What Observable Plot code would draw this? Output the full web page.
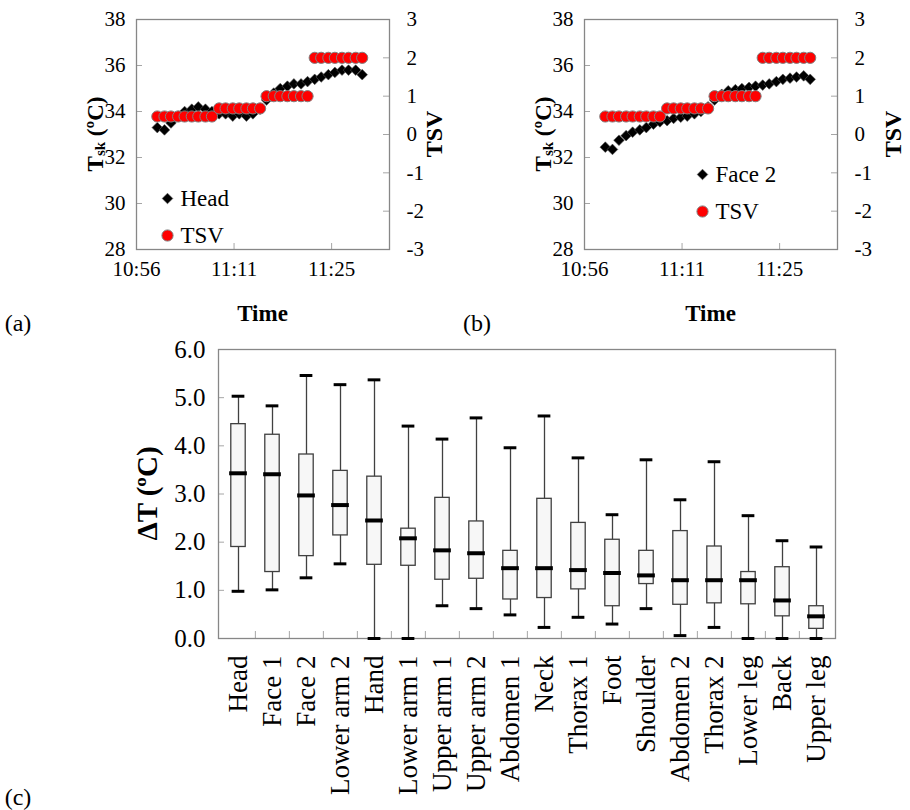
<!DOCTYPE html>
<html><head><meta charset="utf-8">
<script src="https://cdn.jsdelivr.net/npm/d3@7"></script>
<script src="https://cdn.jsdelivr.net/npm/@observablehq/plot@0.6"></script>
<style>
body{margin:0;background:#fff;}
#fig{position:relative;width:910px;height:810px;font-family:"Liberation Serif","Times New Roman",serif;}
#fig svg{position:absolute;overflow:visible;background:transparent;}
</style></head><body><div id="fig"></div>
<script>
// ---------- DATA ----------
// sampling times, minutes after 10:56
const timeMin = [3.2,4.3,5.3,6.4,7.4,8.5,9.5,10.6,11.6,12.7,13.7,14.8,15.8,16.9,17.9,19.0,20.0,21.1,22.1,23.2,24.2,25.3,26.3,27.4,28.4,29.5,30.5,31.6,32.6,33.7,34.7];
const tsvValues = [0.47,0.47,0.47,0.47,0.47,0.47,0.47,0.47,0.47,0.68,0.68,0.68,0.68,0.68,0.68,0.68,1.0,1.0,1.0,1.0,1.0,1.0,1.0,2.0,2.0,2.0,2.0,2.0,2.0,2.0,2.0];
const headTsk = [33.3,33.2,33.5,33.8,34.0,34.1,34.2,34.1,34.0,33.9,33.9,33.8,33.9,33.8,33.9,34.1,34.5,34.8,35.0,35.1,35.2,35.2,35.3,35.4,35.5,35.6,35.7,35.8,35.8,35.8,35.6];
const face2Tsk = [32.45,32.35,32.75,32.95,33.1,33.2,33.3,33.45,33.55,33.6,33.7,33.75,33.8,33.9,34.0,34.2,34.5,34.75,34.9,34.95,35.0,35.05,35.1,35.15,35.2,35.3,35.4,35.45,35.5,35.55,35.4];
const timeTicks = [0, 15, 30];
const timeTickLabels = ["10:56", "11:11", "11:25"];
const tskTicks = [28, 30, 32, 34, 36, 38];
const tsvTicks = [-3, -2, -1, 0, 1, 2, 3];

const sites = ["Head","Face 1","Face 2","Lower arm 2","Hand","Lower arm 1","Upper arm 1","Upper arm 2","Abdomen 1","Neck","Thorax 1","Foot","Shoulder","Abdomen 2","Thorax 2","Lower leg","Back","Upper leg"];
const whiskerHigh = [5.03,4.83,5.46,5.27,5.37,4.41,4.14,4.58,3.96,4.62,3.75,2.57,3.71,2.88,3.67,2.55,2.03,1.90];
const q3 = [4.45,4.23,3.82,3.48,3.36,2.28,2.92,2.43,1.82,2.90,2.40,2.05,1.82,2.23,1.91,1.38,1.48,0.67];
const median = [3.43,3.41,2.97,2.77,2.45,2.08,1.83,1.77,1.46,1.46,1.42,1.36,1.31,1.21,1.21,1.21,0.79,0.46];
const q1 = [1.90,1.38,1.71,2.14,1.53,1.51,1.22,1.24,0.81,0.84,1.02,0.67,1.13,0.70,0.73,0.71,0.46,0.20];
const whiskerLow = [0.98,1.01,1.26,1.55,0.0,0.0,0.68,0.62,0.49,0.23,0.44,0.30,0.62,0.06,0.23,0.0,0.0,0.0];
const dtTicks = [0, 1, 2, 3, 4, 5, 6];

// ---------- LAYOUT ----------
const fig = document.getElementById("fig");
const FONT = '"Liberation Serif","Times New Roman",serif';
const FRAME = "#878787", TICK = "#a6a6a6";
const PW = 455, PH = 340, ML = 136, MR = 66, MT = 19, MB = PH - 249;
const FW = PW - ML - MR, FH = PH - MT - MB;
const baseStyle = {background: "transparent", overflow: "visible", fontFamily: FONT, fontSize: "20px", color: "black"};

function place(svg, left, top) {
  svg.style.left = left + "px";
  svg.style.top = top + "px";
  fig.appendChild(svg);
  return d3.select(svg);
}

function panel(left, seriesVals, seriesName, legendPos, tag, tsvOffset) {
  const tData = timeMin.map((t, i) => ({t, v: seriesVals[i]}));
  const sData = timeMin.map((t, i) => ({t, v: tsvValues[i]}));
  const common = {width: PW, height: PH, marginLeft: ML, marginRight: MR, marginTop: MT, marginBottom: MB,
    style: baseStyle, x: {domain: [0, 38.9], axis: null}};
  const bottom = Plot.plot({...common,
    y: {domain: [28, 38], axis: null},
    marks: [
      Plot.ruleY(tskTicks.slice(1, -1), {stroke: TICK, insetRight: FW - 6}),
      Plot.ruleX(timeTicks.slice(1), {stroke: TICK, insetTop: FH - 6}),
      Plot.axisY(tskTicks, {anchor: "left", tickSize: 0, tickPadding: 11, fontSize: 21, label: null}),
      Plot.axisX(timeTicks, {tickSize: 0, tickPadding: 12, fontSize: 21, label: null,
        tickFormat: d => timeTickLabels[timeTicks.indexOf(d)]}),
      Plot.dot(tData, {x: "t", y: "v", symbol: "diamond2", r: 4.8, fill: "black", stroke: "#555", strokeWidth: 0.6})
    ]});
  const top = Plot.plot({...common,
    y: {domain: [-3, 3], axis: null},
    marks: [
      Plot.ruleY(tsvTicks.slice(1, -1), {stroke: TICK, insetLeft: FW - 6}),
      Plot.axisY(tsvTicks, {anchor: "right", tickSize: 0, tickPadding: 17, fontSize: 21, label: null,
        tickFormat: d => String(d)}),
      Plot.dot(sData, {x: "t", y: "v", r: 5.6, fill: "#ff0000", stroke: "#808080", strokeWidth: 1}),
      Plot.frame({stroke: FRAME, strokeWidth: 1.3}),
      Plot.dot([seriesName], {frameAnchor: "top-left", dx: legendPos[0], dy: legendPos[1], symbol: "diamond2", r: 4.8, fill: "black", stroke: "#555", strokeWidth: 0.6}),
      Plot.dot(["TSV"], {frameAnchor: "top-left", dx: legendPos[0], dy: legendPos[1] + 37, r: 5.6, fill: "#ff0000", stroke: "#808080", strokeWidth: 1}),
      Plot.text([seriesName, "TSV"], {frameAnchor: "top-left", text: d => d, textAnchor: "start",
        lineAnchor: "middle", fontSize: 23, fill: "black"})
    ]});
  const sb = place(bottom, left, 0);
  const st = place(top, left, 0);
  // legend text positioned with offsets per entry
  st.selectAll("g[aria-label='text'] text").each(function(d, i) {
    d3.select(this).attr("transform", `translate(${ML + legendPos[0] + 13},${MT + legendPos[1] + i * 37})`);
  });
  // axis titles
  const tsk = sb.append("text").attr("font-family", FONT).attr("font-weight", "bold").attr("font-size", 23)
    .attr("text-anchor", "middle").attr("dominant-baseline", "central")
    .attr("transform", `translate(${ML - 41},${MT + FH / 2}) rotate(-90)`);
  tsk.append("tspan").text("T");
  tsk.append("tspan").attr("font-size", 15).attr("dy", 5).text("sk");
  tsk.append("tspan").attr("dy", -5).text(" (ºC)");
  st.append("text").attr("font-family", FONT).attr("font-weight", "bold").attr("font-size", 24)
    .attr("text-anchor", "middle").attr("dominant-baseline", "central")
    .attr("transform", `translate(${ML + FW + tsvOffset},${MT + FH / 2}) rotate(-90)`).text("TSV");
  st.append("text").attr("font-family", FONT).attr("font-weight", "bold").attr("font-size", 23)
    .attr("text-anchor", "middle").attr("x", ML + FW / 2).attr("y", 321).text("Time");
  st.append("text").attr("font-family", FONT).attr("font-size", 24)
    .attr("x", tag[1]).attr("y", 331).text(tag[0]);
}

panel(0, headTsk, "Head", [31, 179], ["(a)", 18], 45);
panel(448, face2Tsk, "Face 2", [118, 155], ["(b)", 29], 56);

// ---------- BOX PLOT (c) ----------
const CW = 910, CH = 480, CML = 218, CMR = 910 - 835, CMT = 19, CMB = CH - 308;
const CFW = CW - CML - CMR, CFH = CH - CMT - CMB;
const bw = CFW / sites.length;
const boxData = sites.map((s, i) => ({site: s, lo: whiskerLow[i], q1: q1[i], med: median[i], q3: q3[i], hi: whiskerHigh[i]}));
const boxPlot = Plot.plot({
  width: CW, height: CH, marginLeft: CML, marginRight: CMR, marginTop: CMT, marginBottom: CMB,
  style: baseStyle,
  x: {domain: sites, padding: 0, axis: null},
  y: {domain: [0, 6], axis: null},
  marks: [
    Plot.ruleY(dtTicks.slice(1, -1), {stroke: TICK, insetRight: CFW - 6}),
    Plot.ruleX(sites.slice(1), {x: d => d, dx: -bw / 2, stroke: TICK, insetTop: CFH - 7}),
    Plot.frame({stroke: FRAME, strokeWidth: 1.3}),
    Plot.ruleX(boxData, {x: "site", y1: "lo", y2: "hi", stroke: "#404040", strokeWidth: 1.3}),
    Plot.barY(boxData, {x: "site", y1: "q1", y2: "q3", fill: "#f7f7f7", stroke: "#404040", strokeWidth: 1.3,
      insetLeft: (bw - 14.7) / 2, insetRight: (bw - 14.7) / 2}),
    Plot.tickY(boxData, {x: "site", y: "med", stroke: "black", strokeWidth: 4,
      insetLeft: (bw - 18) / 2, insetRight: (bw - 18) / 2}),
    Plot.tickY(boxData, {x: "site", y: "hi", stroke: "black", strokeWidth: 3,
      insetLeft: (bw - 13) / 2, insetRight: (bw - 13) / 2}),
    Plot.tickY(boxData, {x: "site", y: "lo", stroke: "black", strokeWidth: 3,
      insetLeft: (bw - 13) / 2, insetRight: (bw - 13) / 2}),
    Plot.axisY(dtTicks, {anchor: "left", tickSize: 0, tickPadding: 13, fontSize: 25, label: null,
      tickFormat: d => d.toFixed(1)}),
    Plot.axisX(sites, {tickSize: 0, tickPadding: 17, tickRotate: -90, fontSize: 27, label: null})
  ]
});
const sc = place(boxPlot, 0, 330);
sc.append("text").attr("font-family", FONT).attr("font-weight", "bold").attr("font-size", 29)
  .attr("text-anchor", "middle").attr("dominant-baseline", "central")
  .attr("transform", `translate(${147},${CMT + CFH / 2}) rotate(-90)`).text("ΔT (ºC)");
sc.append("text").attr("font-family", FONT).attr("font-size", 24).attr("x", 18).attr("y", 475).text("(c)");
</script></body></html>
